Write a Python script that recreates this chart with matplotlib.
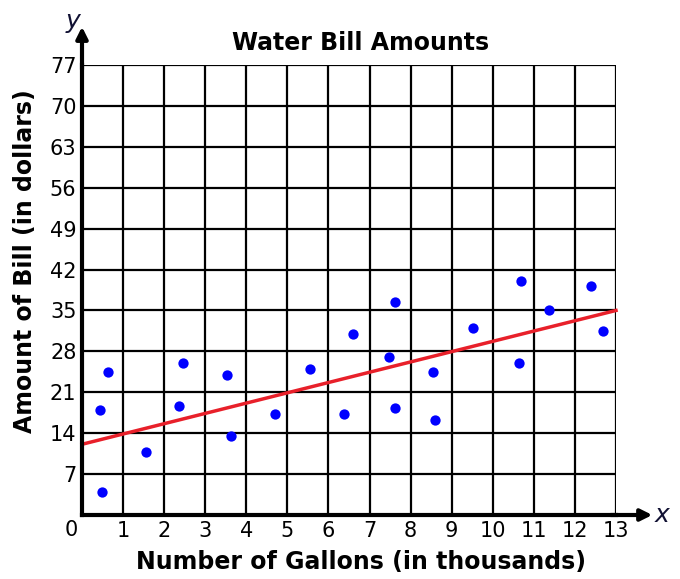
import numpy as np
import matplotlib
matplotlib.use("Agg")
import matplotlib.pyplot as plt

plt.rcParams['font.family'] = ['DejaVu Sans']

# gallons used (thousands) and bill amount (dollars)
gallons = [0.64, 0.44, 0.48, 1.55, 2.35, 2.45, 3.54, 3.63, 4.69, 5.54, 6.38, 6.59,
           7.63, 7.48, 7.63, 8.54, 8.59, 9.53, 10.68, 10.63, 11.38, 12.39, 12.68]
bill = [24.4, 18.0, 4.0, 10.7, 18.7, 26.0, 24.0, 13.6, 17.3, 25.0, 17.3, 31.0,
        36.4, 27.0, 18.3, 24.4, 16.3, 32.0, 40.0, 26.0, 35.0, 39.1, 31.4]

# trend line end points
trend_x = [0, 13]
trend_y = [12.1, 35.0]

x_ticks = list(range(0, 14))
y_ticks = list(range(0, 78, 7))

fig = plt.figure(figsize=(6.8, 5.79), dpi=100)
ax = fig.add_axes([82 / 680, 1 - 515 / 579, 534 / 680, 450 / 579])

ax.set_xlim(0, 13)
ax.set_ylim(0, 77)

# grid
for xv in x_ticks[1:]:
    ax.axvline(xv, color='black', lw=1.6, zorder=1)
for yv in y_ticks[1:]:
    ax.axhline(yv, color='black', lw=1.6, zorder=1)

for side in ['top', 'right']:
    ax.spines[side].set_visible(False)
for side in ['left', 'bottom']:
    ax.spines[side].set_linewidth(3)
    ax.spines[side].set_zorder(5)

# axis arrows
ax.annotate('', xy=(0, 1.085), xycoords='axes fraction', xytext=(0, 0.99),
            arrowprops=dict(arrowstyle='-|>', color='black', lw=3,
                            mutation_scale=17, shrinkA=0, shrinkB=0),
            annotation_clip=False)
ax.annotate('', xy=(1.068, 0), xycoords='axes fraction', xytext=(0.99, 0),
            arrowprops=dict(arrowstyle='-|>', color='black', lw=3,
                            mutation_scale=17, shrinkA=0, shrinkB=0),
            annotation_clip=False)
ax.text(1.072, 0.0, 'x', transform=ax.transAxes, fontsize=18, style='italic',
        ha='left', va='center', color='#111133')
ax.text(-0.017, 1.098, 'y', transform=ax.transAxes, fontsize=18, style='italic',
        ha='center', va='center', color='#111133')

ax.set_xticks(x_ticks[1:])
ax.set_yticks(y_ticks[1:])
ax.tick_params(length=0, labelsize=15, pad=4)
ax.text(-0.02, -0.012, '0', transform=ax.transAxes, fontsize=15,
        ha='center', va='top')

ax.plot(trend_x, trend_y, color='#e8202a', lw=2.5, zorder=3, clip_on=False)
ax.scatter(gallons, bill, s=55, color='#0000ff', zorder=4, linewidths=0)

ax.set_title('Water Bill Amounts', fontsize=17, fontweight='bold', pad=11,
             x=0.522)
ax.set_xlabel('Number of Gallons (in thousands)', fontsize=17,
              fontweight='bold')
ax.set_ylabel('Amount of Bill (in dollars)', fontsize=17, fontweight='bold')
ax.xaxis.set_label_coords(0.522, -0.078)
ax.yaxis.set_label_coords(-0.084, 0.564)

fig.savefig('out.png', dpi=100)
